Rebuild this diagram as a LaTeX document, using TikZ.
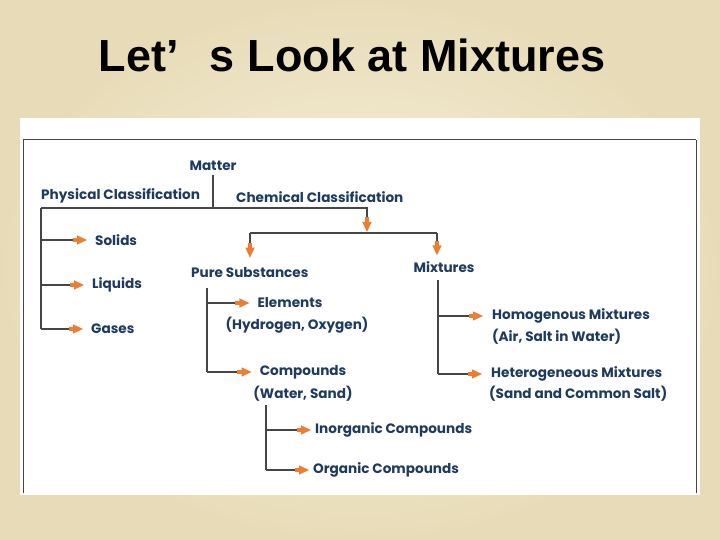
\documentclass[tikz,border=0pt]{standalone}
\usepackage{fontspec}
\setmainfont{Liberation Sans}
\newfontfamily\gothic{Poppins}
\usetikzlibrary{arrows.meta,calc}
\definecolor{paper}{RGB}{232,220,184}
\definecolor{paperlight}{RGB}{248,243,222}
\definecolor{ink}{RGB}{30,58,95}
\definecolor{wire}{RGB}{70,70,70}
\definecolor{tip}{RGB}{237,125,49}
\tikzset{
  lbl/.style={font=\gothic\bfseries\fontsize{13.6}{15}\selectfont, text=ink, inner sep=0pt},
  lblL/.style={lbl, anchor=west},
  wire/.style={draw=wire, line width=1.3pt},
  arr/.style={wire, -{Rectangle[length=5pt,width=4pt,color=tip,sep=-0.5pt]Triangle[length=10pt,width=9pt,color=tip]}, shorten >=#1},
  arr/.default=8pt,
}

\begin{document}
\begin{tikzpicture}[x=1pt,y=-1pt]
	\shade[inner color=paperlight, outer color=paper] (0,0) rectangle (720,540);
	\useasboundingbox (0,0) rectangle (720,540);
	\fill[white] (20,118) rectangle (700,495);
	\draw[wire, line width=1pt] (23,140) -- (23,493) (696,140) -- (696,493) (23,140) -- (696,140);

	\node[anchor=base west, font=\bfseries\fontsize{45}{50}\selectfont] (title) at (95,72) {Let’\hspace{0.7em}s Look at Mixtures};

	% labels
	\node[lbl] (matter) at (213,166) {Matter};
	\node[lblL] (phys) at (41,196) {Physical Classification};
	\node[lblL] (chem) at (236,197) {Chemical Classification};
	\node[lblL] (solids) at (95,240) {Solids};
	\node[lblL] (liquids) at (92,285) {Liquids};
	\node[lblL] (gases) at (91,329) {Gases};
	\node[lblL] (pure) at (191,273) {Pure Substances};
	\node[lbl] (mix) at (444,267) {Mixtures};
	\node[lbl] (elem) at (290,303) {Elements};
	\node[lbl] (elemex) at (297,325) {(Hydrogen, Oxygen)};
	\node[lbl] (comp) at (303,372) {Compounds};
	\node[lbl] (compex) at (303,394) {(Water, Sand)};
	\node[lblL] (inorg) at (315,430) {Inorganic Compounds};
	\node[lblL] (org) at (313,470) {Organic Compounds};
	\node[lblL] (homo) at (492,316) {Homogenous Mixtures};
	\node[lblL] (homoex) at (492,337) {(Air, Salt in Water)};
	\node[lblL] (hetero) at (491,374) {Heterogeneous Mixtures};
	\node[lblL] (heteroex) at (489,394) {(Sand and Common Salt)};

	% trunks and branches
	\coordinate (j0) at (213,208);
	\coordinate (ptrunk) at (phys.west |- j0);
	\coordinate (jc) at (367,208);
	\coordinate (cbar) at (367,233);
	\coordinate (cL) at (250,233);
	\coordinate (cR) at (437,233);
	\coordinate (strunk) at (207,288);
	\coordinate (ctrunk) at (266,405);
	\coordinate (mtrunk) at (438,280);

	\draw[wire] ($(matter.south)+(0,4)$) -- (j0);
	\draw[arr=1pt] (ptrunk) -- (jc) -- (cbar);
	\draw[wire] (ptrunk) -- (ptrunk |- gases);
	\foreach \n in {solids,liquids,gases}
		\draw[arr] (ptrunk |- \n) -- (\n.west);

	\draw[wire] (cL) -- (cR);
	\draw[arr=10pt] (cL) -- (cL |- pure.north);
	\draw[arr=6pt] (cR) -- (cR |- mix.north);

	\draw[wire] (strunk) -- (strunk |- comp);
	\foreach \n in {elem,comp}
		\draw[arr] (strunk |- \n) -- (\n.west);

	\draw[wire] (ctrunk) -- (ctrunk |- org);
	\foreach \n in {inorg,org}
		\draw[arr=4pt] (ctrunk |- \n) -- (\n.west);

	\draw[wire] (mtrunk) -- (mtrunk |- hetero);
	\foreach \n in {homo,hetero}
		\draw[arr=9pt] (mtrunk |- \n) -- (\n.west);
\end{tikzpicture}
\end{document}
